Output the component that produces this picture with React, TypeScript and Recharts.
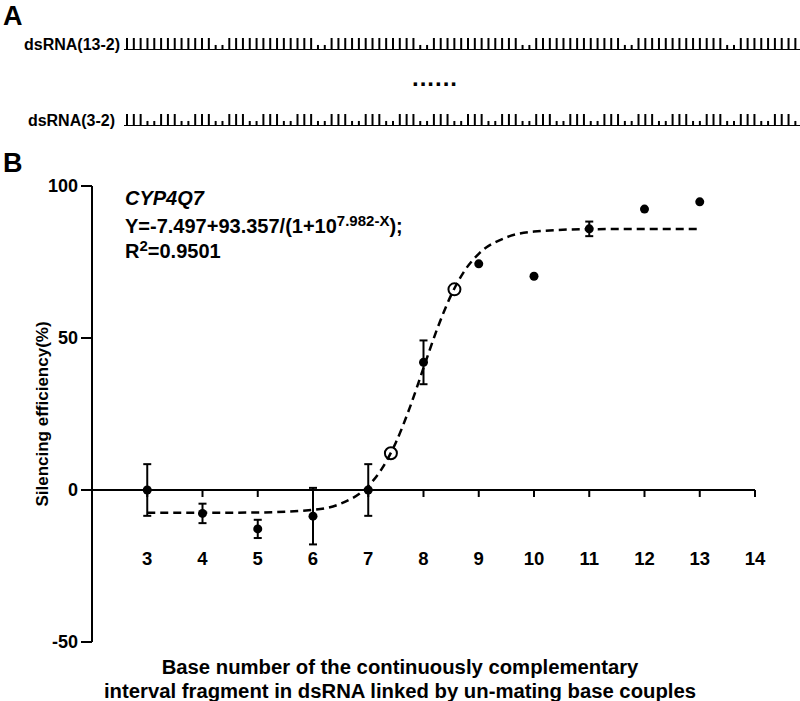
import React from 'react';
import {
  Bar,
  BarChart,
  ComposedChart,
  ErrorBar,
  Line,
  ReferenceLine,
  Scatter,
  XAxis,
  YAxis,
} from 'recharts';

// panel A: L = full pairing tick, S = short (un-mating) tick
const dsRNA13 =
  'LLLLLLLLLLLLLSS' + 'LLLLLLLLLLLLLSS' + 'LLLLLLLLLLLLLSS' + 'LLLLLLLLLLLLLSS' +
  'LLLLLLLLLLLLLSS' + 'LLLLLLLLLLLLLSS' + 'LLLLLLLLLL';
const dsRNA3 =
  'LLLSSLLLSSLLLSSLLLSSLLLSSLLLSSLLLSSLLLSSLLLSSLLLSS' +
  'LLLSSLLLSSLLLSSLLLSSLLLSSLLLSSLLLSSLLLSSLLLSSLLLSS';

// panel B
const xTicks = [3, 4, 5, 6, 7, 8, 9, 10, 11, 12, 13, 14];
const yTicks = [-50, 0, 50, 100];
const withError = [
  { x: 3, y: 0, err: 8.5 },
  { x: 4, y: -7.7, err: 3.2 },
  { x: 5, y: -12.8, err: 3 },
  { x: 6, y: -8.6, err: 9.3 },
  { x: 7, y: 0, err: 8.5 },
  { x: 8, y: 42, err: 7.2 },
  { x: 11, y: 85.9, err: 2.4 },
];
const noError = [
  { x: 9, y: 74.4 },
  { x: 10, y: 70.3 },
  { x: 12, y: 92.4 },
  { x: 13, y: 94.8 },
];
const openPoints = [
  { x: 7.41, y: 12.1 },
  { x: 8.56, y: 66.0 },
];
const fitCurve = [
  { x: 3, y: -7.5 },
  { x: 4, y: -7.49 },
  { x: 5, y: -7.4 },
  { x: 6, y: -6.53 },
  { x: 6.5, y: -4.52 },
  { x: 7, y: 1.32 },
  { x: 7.25, y: 7.1 },
  { x: 7.5, y: 15.65 },
  { x: 7.75, y: 27.0 },
  { x: 8, y: 40.15 },
  { x: 8.25, y: 53.1 },
  { x: 8.5, y: 64.1 },
  { x: 8.75, y: 72.3 },
  { x: 9, y: 77.7 },
  { x: 9.5, y: 83.1 },
  { x: 10, y: 85.0 },
  { x: 11, y: 85.8 },
  { x: 12, y: 85.85 },
  { x: 13, y: 85.86 },
];

const FONT = '"Liberation Sans", Arial, sans-serif';

const toTicks = (s: string) => s.split('').map((c, i) => ({ i, h: c === 'L' ? 1 : 0.42 }));

const TickRow = ({ pattern, top }: { pattern: string; top: number }) => (
  <div style={{ position: 'absolute', left: 0, top }}>
    <BarChart width={806} height={12} data={toTicks(pattern)} margin={{ top: 0, right: 0, bottom: 0, left: 124 }} barCategoryGap={0}>
      <XAxis dataKey="i" hide />
      <YAxis hide domain={[0, 1]} />
      <ReferenceLine y={0} stroke="#000" strokeWidth={2} />
      <Bar dataKey="h" fill="#000" barSize={2} isAnimationActive={false} />
    </BarChart>
  </div>
);

const txt = (extra: React.CSSProperties): React.CSSProperties => ({
  position: 'absolute',
  fontWeight: 'bold',
  lineHeight: 1,
  whiteSpace: 'nowrap',
  color: '#000',
  ...extra,
});

const sup: React.CSSProperties = { fontSize: 15, verticalAlign: 7, lineHeight: 0 };

const App = () => (
  <div style={{ position: 'absolute', left: 0, top: 0, width: 800, height: 701, background: '#fff', fontFamily: FONT, overflow: 'hidden' }}>
    <div style={txt({ left: 3, top: 3, fontSize: 27 })}>A</div>
    <div style={txt({ right: 680, top: 37, fontSize: 16 })}>dsRNA(13-2)</div>
    <TickRow pattern={dsRNA13} top={38} />
    <div style={txt({ left: 412, top: 66, fontSize: 24, letterSpacing: 1 })}>......</div>
    <div style={txt({ right: 685, top: 113, fontSize: 16 })}>dsRNA(3-2)</div>
    <TickRow pattern={dsRNA3} top={114} />

    <div style={txt({ left: 3, top: 150, fontSize: 27 })}>B</div>

    <div style={{ position: 'absolute', left: 0, top: 0 }}>
      <ComposedChart width={800} height={701} margin={{ top: 186, right: 45, bottom: 59, left: 32 }}>
        <XAxis dataKey="x" type="number" domain={[2, 14]} hide />
        <YAxis
          type="number"
          domain={[-50, 100]}
          ticks={yTicks}
          width={60}
          axisLine={{ stroke: '#000', strokeWidth: 2 }}
          tickLine={{ stroke: '#000', strokeWidth: 2 }}
          tickSize={11}
          tickMargin={3}
          tick={{ fill: '#000', fontSize: 18, fontWeight: 'bold' }}
        />
        <ReferenceLine y={0} stroke="#000" strokeWidth={2} />
        <Scatter
          data={xTicks.map((x) => ({ x, y: 0 }))}
          dataKey="y"
          isAnimationActive={false}
          shape={(p: any) => (
            <g>
              <line x1={p.cx} y1={p.cy} x2={p.cx} y2={p.cy + 7} stroke="#000" strokeWidth={2} />
              <text x={p.cx} y={p.cy + 75} textAnchor="middle" fontSize={18.5} fontWeight="bold" fill="#000">
                {p.payload.x}
              </text>
            </g>
          )}
        />
        <Line
          data={fitCurve}
          dataKey="y"
          type="monotone"
          stroke="#000"
          strokeWidth={2.5}
          strokeDasharray="8 5"
          dot={false}
          isAnimationActive={false}
        />
        <Scatter
          data={withError}
          dataKey="y"
          isAnimationActive={false}
          shape={(p: any) => <circle cx={p.cx} cy={p.cy} r={4.5} fill="#000" />}
        >
          <ErrorBar dataKey="err" direction="y" width={4} stroke="#000" strokeWidth={2} />
        </Scatter>
        <Scatter
          data={noError}
          dataKey="y"
          isAnimationActive={false}
          shape={(p: any) => <circle cx={p.cx} cy={p.cy} r={4.5} fill="#000" />}
        />
        <Scatter
          data={openPoints}
          dataKey="y"
          isAnimationActive={false}
          shape={(p: any) => <circle cx={p.cx} cy={p.cy} r={6} fill="none" stroke="#000" strokeWidth={2} />}
        />
      </ComposedChart>
    </div>

    <div style={txt({ left: 125, top: 188, fontSize: 20, fontStyle: 'italic' })}>CYP4Q7</div>
    <div style={txt({ left: 125, top: 216, fontSize: 20 })}>
      Y=-7.497+93.357/(1+10<sup style={sup}>7.982-X</sup>);
    </div>
    <div style={txt({ left: 125, top: 241, fontSize: 20 })}>
      R<sup style={sup}>2</sup>=0.9501
    </div>

    <div
      style={txt({
        left: 42,
        top: 414,
        fontSize: 17,
        transform: 'translate(-50%, -50%) rotate(-90deg)',
      })}
    >
      Silencing efficiency(%)
    </div>

    <div style={txt({ left: 0, width: 800, top: 655, fontSize: 20.3, textAlign: 'center', lineHeight: '24px' })}>
      Base number of the continuously complementary
      <br />
      interval fragment in dsRNA linked by un-mating base couples
    </div>
  </div>
);

export default App;
